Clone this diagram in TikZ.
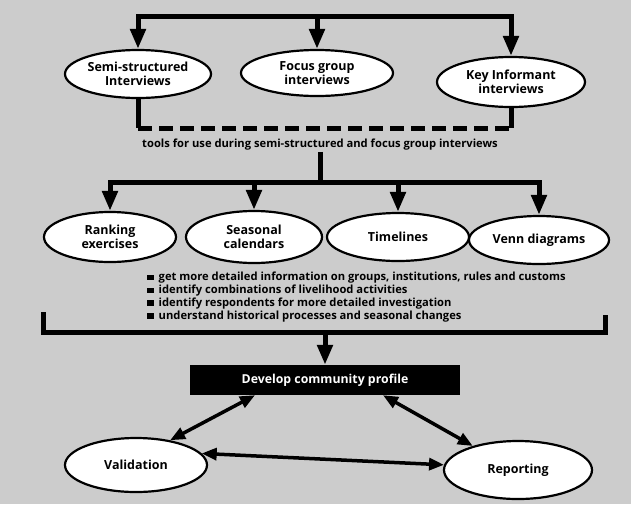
\documentclass[tikz,border=0pt]{standalone}
\usepackage{fontspec}
\setmainfont{Open Sans}
\usetikzlibrary{arrows.meta,shapes.geometric}
\newcommand{\mysq}{\rule[0.5pt]{6.5pt}{5.5pt}\hspace{5pt}}
\begin{document}
\begin{tikzpicture}[x=1pt,y=-1pt,
  oval/.style={ellipse, draw=black, line width=2.2pt, fill=white, inner sep=0pt,
    font=\bfseries\fontsize{12.5}{13.5}\selectfont, align=center},
  thickline/.style={line width=5pt, line join=miter},
  arr/.style={line width=5pt, line join=miter, -{Triangle[width=15pt,length=20pt]}},
  darr/.style={line width=3.5pt, {Triangle[width=12pt,length=15pt]}-{Triangle[width=12pt,length=15pt]}},
  dashline/.style={line width=5pt, dash pattern=on 14pt off 7pt},
  smalltext/.style={font=\bfseries\fontsize{11.2}{12.8}\selectfont}
]
\fill[black!20] (0,0) rectangle (631,504);
\useasboundingbox (0,0) rectangle (631,504);

% first row
\node[oval, minimum width=146pt, minimum height=48pt] (semi) at (138,74) {Semi-structured\\Interviews};
\node[oval, minimum width=152pt, minimum height=46pt] (focus) at (317,73) {Focus group\\interviews};
\node[oval, minimum width=148pt, minimum height=50pt] (key) at (511,82) {Key Informant\\interviews};

\coordinate (t1) at (semi.north |- 0,16);
\coordinate (t2) at (focus.north |- 0,16);
\coordinate (t3) at (key.north |- 0,16);
\draw[arr] (t2) -- (t1) -- (semi.north);
\draw[arr] (t2) -- (t3) -- (key.north);
\draw[arr] (t2) -- (focus.north);

% dashed link
\coordinate (d1) at (semi.south |- 0,128);
\coordinate (d2) at (key.south |- 0,128);
\draw[thickline] (semi.south) -- (d1);
\draw[thickline] (key.south) -- (d2);
\draw[dashline] (d1) -- (d2);

\node[smalltext, inner sep=1pt] (tools) at (320,145) {tools for use during semi-structured and focus group interviews};

% second row
\node[oval, minimum width=132pt, minimum height=50pt] (rank) at (110,237) {Ranking\\exercises};
\node[oval, minimum width=136pt, minimum height=52pt] (seas) at (254,237) {Seasonal\\calendars};
\node[oval, minimum width=142pt, minimum height=48pt] (time) at (398,237) {Timelines};
\node[oval, minimum width=140pt, minimum height=48pt] (venn) at (539,240) {Venn diagrams};

\coordinate (b2) at (tools.south |- 0,182);
\coordinate (r1) at (rank.north |- 0,182);
\coordinate (r2) at (seas.north |- 0,182);
\coordinate (r3) at (time.north |- 0,182);
\coordinate (r4) at (venn.north |- 0,182);
\draw[thickline] (tools.south) -- (b2);
\draw[arr] (b2) -- (r1) -- (rank.north);
\draw[arr] (b2) -- (r4) -- (venn.north);
\draw[arr] (r2) -- (seas.north);
\draw[arr] (r3) -- (time.north);

% bullet list
\node[smalltext, anchor=north west, align=left, inner sep=0pt] (bul) at (147,272) {%
\mysq get more detailed information on groups, institutions, rules and customs\\
\mysq identify combinations of livelihood activities\\
\mysq identify respondents for more detailed investigation\\
\mysq understand historical processes and seasonal changes};

% bottom bracket
\node[fill=black, text=white, minimum width=270pt, minimum height=30pt, inner sep=0pt,
  font=\bfseries\fontsize{12.3}{13}\selectfont] (dev) at (325,380) {Develop community profile};
\coordinate (c1) at (43,312);
\coordinate (c2) at (43,332);
\coordinate (c3) at (605,332);
\coordinate (c4) at (605,315);
\coordinate (c5) at (dev.north |- c2);
\draw[thickline] (c1) -- (c2) -- (c3) -- (c4);
\draw[arr] (c5) -- (dev.north);

% bottom row
\node[oval, minimum width=142pt, minimum height=54pt] (val) at (136,465) {Validation};
\node[oval, minimum width=148pt, minimum height=58pt] (rep) at (518,470) {Reporting};

\draw[darr] ([xshift=-70pt]dev.south) -- (val.36);
\draw[darr] ([xshift=58pt]dev.south) -- (rep.152);
\draw[darr] (val.10) -- (rep.176);
\end{tikzpicture}
\end{document}
